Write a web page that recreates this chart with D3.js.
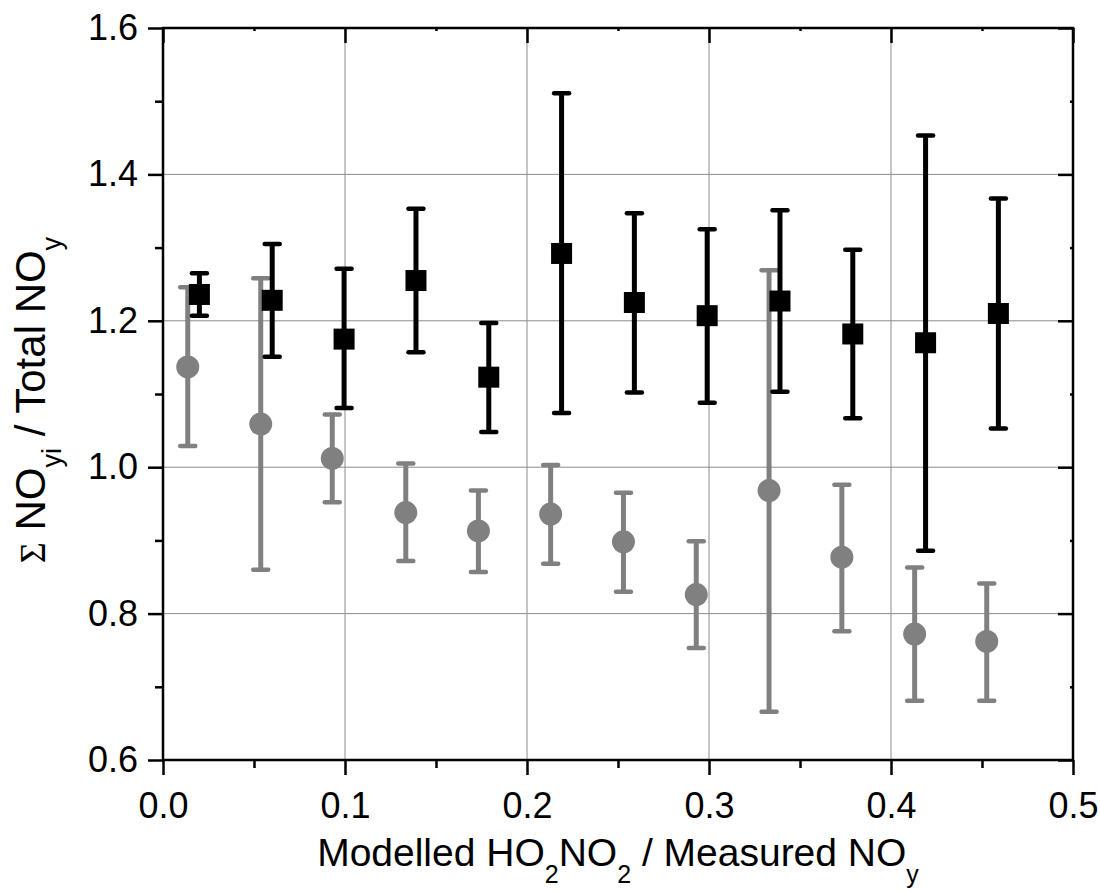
<!DOCTYPE html>
<html>
<head>
<meta charset="utf-8">
<script src="https://cdn.jsdelivr.net/npm/d3@7"></script>
<style>
  html, body { margin: 0; padding: 0; background: #fff; }
  svg { display: block; }
  text { font-family: "Liberation Sans", Arial, sans-serif; fill: #000; }
</style>
</head>
<body>
<svg id="chart" width="1100" height="893"></svg>
<script>
// ---- data ----
const xTicks = [0.0, 0.1, 0.2, 0.3, 0.4, 0.5];
const xTickLabels = ["0.0", "0.1", "0.2", "0.3", "0.4", "0.5"];
const yTicks = [0.6, 0.8, 1.0, 1.2, 1.4, 1.6];
const yTickLabels = ["0.6", "0.8", "1.0", "1.2", "1.4", "1.6"];

// Black squares series
const sqX    = [0.020, 0.060, 0.0995, 0.139, 0.179, 0.219, 0.259, 0.299, 0.339, 0.379, 0.419, 0.459];
const sqY    = [1.236, 1.228, 1.175, 1.255, 1.123, 1.292, 1.225, 1.207, 1.227, 1.182, 1.170, 1.210];
const sqHigh = [1.265, 1.305, 1.271, 1.353, 1.197, 1.511, 1.347, 1.325, 1.351, 1.297, 1.453, 1.367];
const sqLow  = [1.207, 1.151, 1.081, 1.157, 1.048, 1.074, 1.102, 1.088, 1.103, 1.067, 0.886, 1.053];

// Grey circles series
const ciX    = [0.0136, 0.0537, 0.093, 0.1334, 0.1733, 0.213, 0.253, 0.293, 0.333, 0.373, 0.413, 0.4526];
const ciY    = [1.137, 1.059, 1.012, 0.938, 0.913, 0.936, 0.898, 0.826, 0.968, 0.877, 0.772, 0.762];
const ciHigh = [1.246, 1.258, 1.072, 1.005, 0.968, 1.003, 0.965, 0.899, 1.269, 0.976, 0.863, 0.841];
const ciLow  = [1.029, 0.860, 0.952, 0.872, 0.857, 0.868, 0.830, 0.753, 0.666, 0.776, 0.681, 0.681];

// ---- layout ----
const svg = d3.select("#chart");
const L = 163, R = 1073, T = 28, B = 760;
const x = d3.scaleLinear().domain([0, 0.5]).range([L, R]);
const y = d3.scaleLinear().domain([0.6, 1.6]).range([B, T]);
const grey = "#808080";

// gridlines
const grid = svg.append("g");
grid.selectAll("line.vg").data(xTicks.slice(1, -1)).enter().append("line")
  .attr("x1", d => x(d)).attr("x2", d => x(d)).attr("y1", T).attr("y2", B)
  .attr("stroke", "#8c8c8c").attr("stroke-width", 1);
grid.selectAll("line.hg").data(yTicks.slice(1, -1)).enter().append("line")
  .attr("y1", d => y(d)).attr("y2", d => y(d)).attr("x1", L).attr("x2", R)
  .attr("stroke", "#8c8c8c").attr("stroke-width", 1);

// ---- series: grey circles ----
const gc = svg.append("g");
ciX.forEach((xv, i) => {
  const cx = x(xv);
  gc.append("line").attr("x1", cx).attr("x2", cx).attr("y1", y(ciHigh[i])).attr("y2", y(ciLow[i]))
    .attr("stroke", grey).attr("stroke-width", 5);
  [ciHigh[i], ciLow[i]].forEach(v => {
    gc.append("line").attr("x1", cx - 7.5).attr("x2", cx + 7.5).attr("y1", y(v)).attr("y2", y(v))
      .attr("stroke", grey).attr("stroke-width", 4.5).attr("stroke-linecap", "round");
  });
  gc.append("circle").attr("cx", cx).attr("cy", y(ciY[i])).attr("r", 11.5).attr("fill", grey);
});

// ---- series: black squares ----
const bs = svg.append("g");
sqX.forEach((xv, i) => {
  const cx = x(xv);
  bs.append("line").attr("x1", cx).attr("x2", cx).attr("y1", y(sqHigh[i])).attr("y2", y(sqLow[i]))
    .attr("stroke", "#000").attr("stroke-width", 5);
  [sqHigh[i], sqLow[i]].forEach(v => {
    bs.append("line").attr("x1", cx - 7.5).attr("x2", cx + 7.5).attr("y1", y(v)).attr("y2", y(v))
      .attr("stroke", "#000").attr("stroke-width", 4.5).attr("stroke-linecap", "round");
  });
  bs.append("rect").attr("x", cx - 10.5).attr("y", y(sqY[i]) - 10.5).attr("width", 21).attr("height", 21)
    .attr("fill", "#000");
});

// ---- axes ----
const fmtX = (d, i) => xTickLabels[i];
const fmtY = (d, i) => yTickLabels[i];
const xMinor = d3.range(0.05, 0.5, 0.1);
const yMinor = d3.range(0.7, 1.6, 0.2);

function styleAxis(g) {
  g.select(".domain").remove();
  g.selectAll(".tick line").attr("stroke", "#000").attr("stroke-width", 2.5);
  g.selectAll(".tick text").style("font-size", "36px").style("font-family", "'Liberation Sans', Arial, sans-serif");
}
function plainTicks(g) {
  g.select(".domain").remove();
  g.selectAll(".tick line").attr("stroke", "#000").attr("stroke-width", 2.5);
}

// bottom
const gB = svg.append("g").attr("transform", `translate(0,${B})`)
  .call(d3.axisBottom(x).tickValues(xTicks).tickFormat(fmtX).tickSize(15).tickPadding(17));
styleAxis(gB);
svg.append("g").attr("transform", `translate(0,${B})`)
  .call(d3.axisBottom(x).tickValues(xMinor).tickFormat("").tickSize(8)).call(plainTicks);

// left
const gL = svg.append("g").attr("transform", `translate(${L},0)`)
  .call(d3.axisLeft(y).tickValues(yTicks).tickFormat(fmtY).tickSize(15).tickPadding(10));
styleAxis(gL);
svg.append("g").attr("transform", `translate(${L},0)`)
  .call(d3.axisLeft(y).tickValues(yMinor).tickFormat("").tickSize(8)).call(plainTicks);

// top (inward ticks)
svg.append("g").attr("transform", `translate(0,${T})`)
  .call(d3.axisBottom(x).tickValues(xTicks).tickFormat("").tickSize(15)).call(plainTicks);
svg.append("g").attr("transform", `translate(0,${T})`)
  .call(d3.axisBottom(x).tickValues(xMinor).tickFormat("").tickSize(3)).call(plainTicks);

// right (inward ticks)
svg.append("g").attr("transform", `translate(${R},0)`)
  .call(d3.axisLeft(y).tickValues(yTicks).tickFormat("").tickSize(15)).call(plainTicks);
svg.append("g").attr("transform", `translate(${R},0)`)
  .call(d3.axisLeft(y).tickValues(yMinor).tickFormat("").tickSize(3)).call(plainTicks);

// frame
svg.append("rect").attr("x", L).attr("y", T).attr("width", R - L).attr("height", B - T)
  .attr("fill", "none").attr("stroke", "#000").attr("stroke-width", 2.5);

// ---- axis titles ----
const xt = svg.append("text").attr("x", (L + R) / 2).attr("y", 866)
  .attr("text-anchor", "middle").style("font-size", "39px");
xt.append("tspan").text("Modelled HO");
xt.append("tspan").text("2").style("font-size", "25px").attr("dy", 17);
xt.append("tspan").text("NO").attr("dy", -17);
xt.append("tspan").text("2").style("font-size", "25px").attr("dy", 17);
xt.append("tspan").text(" / Measured NO").attr("dy", -17);
xt.append("tspan").text("y").style("font-size", "25px").attr("dy", 17);

const yt = svg.append("text").attr("transform", `translate(45,400) rotate(-90)`)
  .attr("text-anchor", "middle").style("font-size", "42px");
yt.append("tspan").text("Σ").style("font-family", "'Liberation Serif', serif").style("font-size", "36px");
yt.append("tspan").text(" NO");
yt.append("tspan").text("yi").style("font-size", "27px").attr("dy", 16);
yt.append("tspan").text(" / Total NO").attr("dy", -16);
yt.append("tspan").text("y").style("font-size", "27px").attr("dy", 16);
</script>
</body>
</html>
